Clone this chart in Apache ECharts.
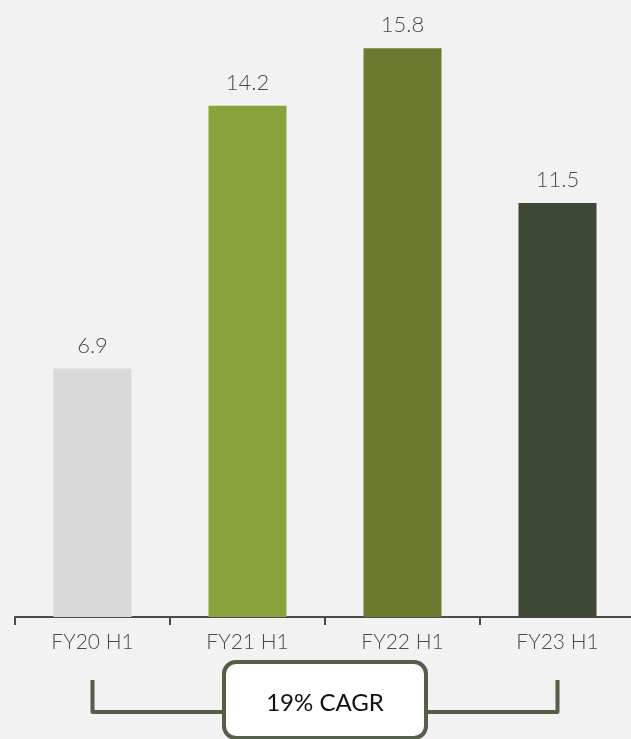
<!DOCTYPE html>
<html>
<head>
<meta charset="utf-8">
<script src="https://cdn.jsdelivr.net/npm/echarts@6/dist/echarts.min.js"></script>
<style>
  html, body { margin: 0; padding: 0; background: #f2f2f2; overflow: hidden; }
  /* canvas is a few pixels wider than the page so the last band runs off the edge */
  #chart { width: 635px; height: 739px; }
</style>
</head>
<body>
<div id="chart"></div>
<script>
// Half-year figures per fiscal year
const categories = ['FY20 H1', 'FY21 H1', 'FY22 H1', 'FY23 H1'];
const values = [6.9, 14.2, 15.8, 11.5];
const barColors = ['#d9d9d9', '#8aa23b', '#6a7a2e', '#3e4734'];
const cagrText = '19% CAGR';

const FONT = 'Lato, "Open Sans", sans-serif';
const chart = echarts.init(document.getElementById('chart'), null, { renderer: 'canvas' });

chart.setOption({
  backgroundColor: '#f2f2f2',
  animation: false,
  grid: { left: 15, right: 0, top: 5, bottom: 122, containLabel: false },
  xAxis: {
    type: 'category',
    data: categories,
    axisLine: { lineStyle: { color: '#4a4a4a', width: 2 } },
    axisTick: { show: true, length: 8, lineStyle: { color: '#4a4a4a', width: 2 } },
    axisLabel: { color: '#4a4a4a', fontSize: 21, fontWeight: 300, fontFamily: FONT, margin: 15 }
  },
  yAxis: {
    type: 'value',
    min: 0,
    max: 17,
    show: false,
    splitLine: { show: false }
  },
  series: [{
    type: 'bar',
    barWidth: 78,
    data: values.map((v, i) => ({ value: v, itemStyle: { color: barColors[i] } })),
    label: {
      show: true,
      position: 'top',
      distance: 12,
      color: '#4a4a4a',
      fontSize: 22,
      fontWeight: 300,
      fontFamily: FONT,
      formatter: p => p.value.toFixed(1)
    }
  }]
});

// CAGR bracket spanning the first and last category
function drawBracket() {
  const x0 = chart.convertToPixel({ xAxisIndex: 0 }, categories[0]);
  const x1 = chart.convertToPixel({ xAxisIndex: 0 }, categories[categories.length - 1]);
  const mid = (x0 + x1) / 2;
  const boxW = 202, boxH = 76, yTop = 680, yLine = 712, boxTop = 662;
  const stroke = '#545e48';
  chart.setOption({
    graphic: [
      {
        type: 'polyline',
        shape: { points: [[x0, yTop], [x0, yLine], [mid - boxW / 2, yLine]] },
        style: { stroke, lineWidth: 4, fill: null, lineJoin: 'round' }
      },
      {
        type: 'polyline',
        shape: { points: [[x1, yTop], [x1, yLine], [mid + boxW / 2, yLine]] },
        style: { stroke, lineWidth: 4, fill: null, lineJoin: 'round' }
      },
      {
        type: 'rect',
        shape: { x: mid - boxW / 2, y: boxTop, width: boxW, height: boxH, r: 12 },
        style: { fill: '#ffffff', stroke, lineWidth: 4 }
      },
      {
        type: 'text',
        x: mid,
        y: boxTop + 41,
        style: {
          text: cagrText,
          fill: '#111111',
          font: '24px ' + FONT,
          align: 'center',
          verticalAlign: 'middle'
        }
      }
    ]
  });
}
drawBracket();
</script>
</body>
</html>
